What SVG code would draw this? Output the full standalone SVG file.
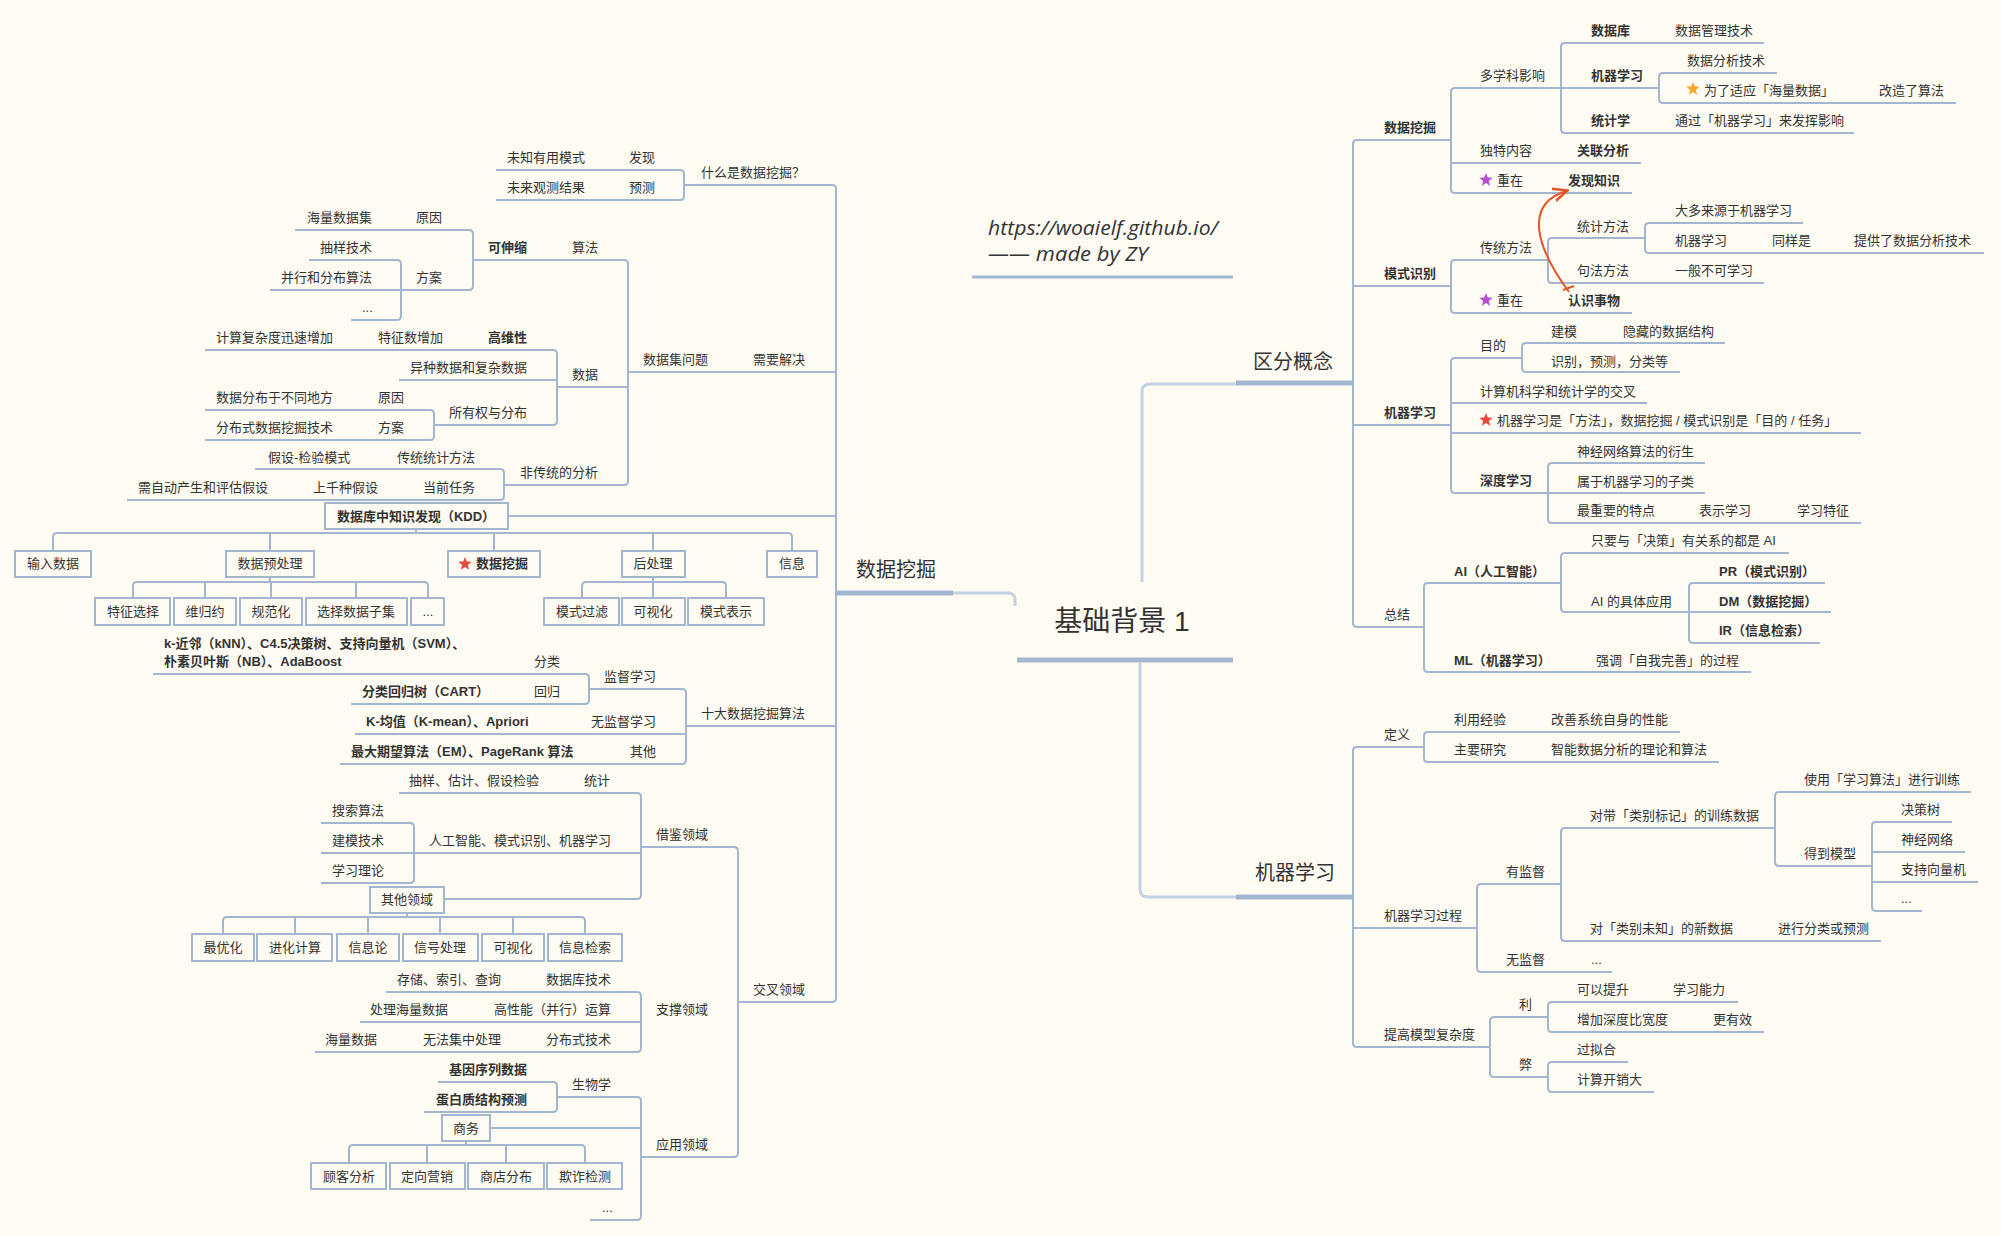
<svg xmlns="http://www.w3.org/2000/svg" width="2001" height="1236" viewBox="0 0 2001 1236">
<style>
.c{fill:none;stroke:#a3b6cf;stroke-width:2}
.m{fill:none;stroke:#a3b6cf;stroke-width:5}
.f{fill:none;stroke:#c3d1e1;stroke-width:3}
.t{font-family:"Liberation Sans","Noto Sans CJK SC",sans-serif;font-size:13px;fill:#333}
.b{font-weight:bold}
.x{text-anchor:middle}
.L{font-size:20px}
.bx{fill:#fefbf2;stroke:#a3b6cf;stroke-width:2}
.u{font-family:"Open Sans","Liberation Sans",sans-serif;font-style:italic;font-size:20px;fill:#333}
</style>
<defs>
<path id="star" d="M0,-7L1.76,-2.43L6.66,-2.16L2.85,0.93L4.11,5.66L0,3L-4.11,5.66L-2.85,0.93L-6.66,-2.16L-1.76,-2.43Z"/>
<marker id="ah" viewBox="0 0 10 10" refX="8" refY="5" markerWidth="8" markerHeight="8" orient="auto"><path d="M0,1L9,5L0,9" fill="none" stroke="#e2572b" stroke-width="1.6"/></marker>
</defs>
<rect width="2001" height="1236" fill="#fefbf2"/>

<g id="connectors">
<!-- root branches -->
<path class="m" d="M1017,660H1233"/>
<path class="f" d="M1015,606V600Q1015,593 1008,593H953"/>
<path class="m" d="M836,593H953"/>
<path class="f" d="M1142,582V392Q1142,384 1150,384H1236"/>
<path class="m" d="M1236,383H1353"/>
<path class="f" d="M1140,662V889Q1140,897 1148,897H1236"/>
<path class="m" d="M1236,897H1353"/>
<!-- left main vertical -->
<path class="c" d="M684,185H832Q836,185 836,189V998Q836,1002 832,1002H738"/>
<path class="c" d="M628,372H836"/>
<path class="c" d="M508,516H836"/>
<path class="c" d="M686,726H836"/>
<!-- 什么是数据挖掘 -->
<path class="c" d="M496,170H680Q684,170 684,174V196Q684,200 680,200H496"/>
<!-- 数据集问题 -->
<path class="c" d="M473,260H624Q628,260 628,264V481Q628,485 624,485H504"/>
<path class="c" d="M557,387H628"/>
<path class="c" d="M295,230H469Q473,230 473,234V286Q473,290 469,290H270"/>
<path class="c" d="M309,260H397Q401,260 401,264V316Q401,320 397,320H351"/>
<path class="c" d="M205,350H553Q557,350 557,354V421Q557,425 553,425H434"/>
<path class="c" d="M399,380H557"/>
<path class="c" d="M205,410H430Q434,410 434,414V436Q434,440 430,440H205"/>
<path class="c" d="M255,469H500Q504,469 504,473V496Q504,500 500,500H127"/>
<!-- KDD -->
<path class="c" d="M416,529V533M53,551V537Q53,533 57,533H788Q792,533 792,537V551M270,533V551M494,533V551M653,533V551"/>
<path class="c" d="M270,577V582M133,598V586Q133,582 137,582H424Q428,582 428,586V598M205,582V598M271,582V598M356,582V598"/>
<path class="c" d="M653,577V598M582,598V586Q582,582 586,582H722Q726,582 726,586V598"/>
<!-- 十大 -->
<path class="c" d="M589,689H682Q686,689 686,693V760Q686,764 682,764H340"/>
<path class="c" d="M355,734H686"/>
<path class="c" d="M153,674H585Q589,674 589,678V700Q589,704 585,704H351"/>
<!-- 交叉领域 -->
<path class="c" d="M641,847H734Q738,847 738,851V1153Q738,1157 734,1157H641"/>
<path class="c" d="M399,793H637Q641,793 641,797V895Q641,899 637,899H444"/>
<path class="c" d="M321,853H641"/>
<path class="c" d="M321,823H410Q414,823 414,827V879Q414,883 410,883H321"/>
<path class="c" d="M407,913V917M223,934V921Q223,917 227,917H581Q585,917 585,921V934M295,917V934M368,917V934M440,917V934M513,917V934"/>
<path class="c" d="M386,992H637Q641,992 641,996V1048Q641,1052 637,1052H315"/>
<path class="c" d="M360,1022H641"/>
<path class="c" d="M557,1097H637Q641,1097 641,1101V1216Q641,1220 637,1220H590"/>
<path class="c" d="M438,1082H553Q557,1082 557,1086V1108Q557,1112 553,1112H424"/>
<path class="c" d="M490,1128H641"/>
<path class="c" d="M466,1141V1145M349,1163V1149Q349,1145 353,1145H581Q585,1145 585,1149V1163M427,1145V1163M506,1145V1163"/>
<!-- 区分概念 -->
<path class="c" d="M1451,140H1357Q1353,140 1353,144V623Q1353,627 1357,627H1424"/>
<path class="c" d="M1353,286H1451M1353,425H1451"/>
<path class="c" d="M1561,88H1455Q1451,88 1451,92V189Q1451,193 1455,193H1632"/>
<path class="c" d="M1451,163H1641"/>
<path class="c" d="M1764,43H1565Q1561,43 1561,47V129Q1561,133 1565,133H1854"/>
<path class="c" d="M1561,88H1659"/>
<path class="c" d="M1777,73H1663Q1659,73 1659,77V99Q1659,103 1663,103H1956"/>
<path class="c" d="M1548,260H1455Q1451,260 1451,264V309Q1451,313 1455,313H1632"/>
<path class="c" d="M1645,238H1552Q1548,238 1548,242V279Q1548,283 1552,283H1764"/>
<path class="c" d="M1803,223H1649Q1645,223 1645,227V249Q1645,253 1649,253H1984"/>
<path class="c" d="M1522,358H1455Q1451,358 1451,362V489Q1451,493 1455,493H1548"/>
<path class="c" d="M1451,403H1647M1451,433H1861"/>
<path class="c" d="M1725,343H1526Q1522,343 1522,347V368Q1522,372 1526,372H1680"/>
<path class="c" d="M1705,463H1552Q1548,463 1548,467V519Q1548,523 1552,523H1861"/>
<path class="c" d="M1548,493H1705"/>
<path class="c" d="M1561,583H1428Q1424,583 1424,587V668Q1424,672 1428,672H1751"/>
<path class="c" d="M1789,553H1565Q1561,553 1561,557V608Q1561,612 1565,612H1689"/>
<path class="c" d="M1825,583H1693Q1689,583 1689,587V639Q1689,643 1693,643H1820"/>
<path class="c" d="M1689,612H1831"/>
<!-- 机器学习 -->
<path class="c" d="M1424,747H1357Q1353,747 1353,751V1043Q1353,1047 1357,1047H1490"/>
<path class="c" d="M1353,928H1477"/>
<path class="c" d="M1680,732H1428Q1424,732 1424,736V758Q1424,762 1428,762H1719"/>
<path class="c" d="M1561,884H1481Q1477,884 1477,888V968Q1477,972 1481,972H1612"/>
<path class="c" d="M1775,828H1565Q1561,828 1561,832V937Q1561,941 1565,941H1881"/>
<path class="c" d="M1971,792H1779Q1775,792 1775,796V862Q1775,866 1779,866H1872"/>
<path class="c" d="M1952,822H1876Q1872,822 1872,826V907Q1872,911 1876,911H1922"/>
<path class="c" d="M1872,852H1965M1872,882H1978"/>
<path class="c" d="M1548,1017H1494Q1490,1017 1490,1021V1073Q1490,1077 1494,1077H1548"/>
<path class="c" d="M1738,1002H1552Q1548,1002 1548,1006V1028Q1548,1032 1552,1032H1764"/>
<path class="c" d="M1628,1062H1552Q1548,1062 1548,1066V1088Q1548,1092 1552,1092H1654"/>
<!-- relation arrow -->
<path d="M1569,292C1538,250 1522,205 1566,191" fill="none" stroke="#e2572b" stroke-width="2" marker-end="url(#ah)"/>
<path d="M1563,290L1574,286" fill="none" stroke="#e2572b" stroke-width="2"/>
<!-- url underline -->
<path d="M972,277H1233" fill="none" stroke="#a3b6cf" stroke-width="3"/>
</g>

<g id="n-root"><text class="t x" x="1122" y="631" style="font-size:28px">基础背景 1</text></g>
<g id="n-url"><text class="u" x="988" y="235" textLength="230" lengthAdjust="spacingAndGlyphs">https://woaielf.github.io/</text><text class="u" x="988" y="261" textLength="160" lengthAdjust="spacingAndGlyphs">—— made by ZY</text></g>

<g id="n-dm"><text class="t L" x="856" y="577">数据挖掘</text></g>
<g id="n-qf"><text class="t L" x="1253" y="369">区分概念</text></g>
<g id="n-ml"><text class="t L" x="1255" y="880">机器学习</text></g>

<!-- left subtree -->
<g id="n-what"><text class="t" x="701" y="177">什么是数据挖掘？</text></g>
<g id="n-fx"><text class="t" x="629" y="162">发现</text><text class="t" x="507" y="162">未知有用模式</text></g>
<g id="n-yc"><text class="t" x="629" y="192">预测</text><text class="t" x="507" y="192">未来观测结果</text></g>

<g id="n-xyjj"><text class="t" x="753" y="364">需要解决</text></g>
<g id="n-sjjwt"><text class="t" x="643" y="364">数据集问题</text></g>
<g id="n-sf"><text class="t" x="572" y="252">算法</text></g>
<g id="n-ksf"><text class="t b" x="488" y="252">可伸缩</text></g>
<g id="n-yy1"><text class="t" x="416" y="222">原因</text><text class="t" x="307" y="222">海量数据集</text></g>
<g id="n-fa1"><text class="t" x="416" y="282">方案</text></g>
<g id="n-cyjs"><text class="t" x="320" y="252">抽样技术</text></g>
<g id="n-bx"><text class="t" x="281" y="282">并行和分布算法</text></g>
<g id="n-e1"><text class="t" x="362" y="312">...</text></g>
<g id="n-sj"><text class="t" x="572" y="379">数据</text></g>
<g id="n-gwx"><text class="t b" x="488" y="342">高维性</text><text class="t" x="378" y="342">特征数增加</text><text class="t" x="216" y="342">计算复杂度迅速增加</text></g>
<g id="n-yz"><text class="t" x="410" y="372">异种数据和复杂数据</text></g>
<g id="n-syq"><text class="t" x="449" y="417">所有权与分布</text></g>
<g id="n-yy2"><text class="t" x="378" y="402">原因</text><text class="t" x="216" y="402">数据分布于不同地方</text></g>
<g id="n-fa2"><text class="t" x="378" y="432">方案</text><text class="t" x="216" y="432">分布式数据挖掘技术</text></g>
<g id="n-fct"><text class="t" x="520" y="477">非传统的分析</text></g>
<g id="n-ctt"><text class="t" x="397" y="462">传统统计方法</text><text class="t" x="268" y="462">假设-检验模式</text></g>
<g id="n-dq"><text class="t" x="423" y="492">当前任务</text><text class="t" x="313" y="492">上千种假设</text><text class="t" x="138" y="492">需自动产生和评估假设</text></g>

<g id="n-kdd"><rect class="bx" x="325" y="503" width="183" height="26"/><text class="t b x" x="416" y="521">数据库中知识发现（KDD）</text></g>
<g id="n-srsj"><rect class="bx" x="15" y="551" width="76" height="26"/><text class="t x" x="53" y="568">输入数据</text></g>
<g id="n-yc2"><rect class="bx" x="226" y="551" width="88" height="26"/><text class="t x" x="270" y="568">数据预处理</text></g>
<g id="n-wj"><rect class="bx" x="448" y="551" width="92" height="26"/><use href="#star" x="465" y="564" fill="#e8473d"/><text class="t b" x="476" y="568">数据挖掘</text></g>
<g id="n-hcl"><rect class="bx" x="622" y="551" width="63" height="26"/><text class="t x" x="653" y="568">后处理</text></g>
<g id="n-xx"><rect class="bx" x="767" y="551" width="50" height="26"/><text class="t x" x="792" y="568">信息</text></g>
<g id="n-tzxz"><rect class="bx" x="95" y="598" width="75" height="27"/><text class="t x" x="133" y="616">特征选择</text></g>
<g id="n-wgy"><rect class="bx" x="174" y="598" width="62" height="27"/><text class="t x" x="205" y="616">维归约</text></g>
<g id="n-gfh"><rect class="bx" x="240" y="598" width="62" height="27"/><text class="t x" x="271" y="616">规范化</text></g>
<g id="n-xzsj"><rect class="bx" x="306" y="598" width="101" height="27"/><text class="t x" x="356" y="616">选择数据子集</text></g>
<g id="n-e2"><rect class="bx" x="411" y="598" width="33" height="27"/><text class="t x" x="428" y="616">...</text></g>
<g id="n-msgl"><rect class="bx" x="544" y="598" width="75" height="27"/><text class="t x" x="582" y="616">模式过滤</text></g>
<g id="n-ksh1"><rect class="bx" x="622" y="598" width="63" height="27"/><text class="t x" x="653" y="616">可视化</text></g>
<g id="n-msbs"><rect class="bx" x="688" y="598" width="76" height="27"/><text class="t x" x="726" y="616">模式表示</text></g>

<g id="n-sd"><text class="t" x="701" y="718">十大数据挖掘算法</text></g>
<g id="n-jd"><text class="t" x="604" y="681">监督学习</text></g>
<g id="n-fl"><text class="t" x="534" y="666">分类</text><text class="t b" x="164" y="648">k-近邻（kNN）、C4.5决策树、支持向量机（SVM）、</text><text class="t b" x="164" y="666">朴素贝叶斯（NB）、AdaBoost</text></g>
<g id="n-hg"><text class="t" x="534" y="696">回归</text><text class="t b" x="362" y="696">分类回归树（CART）</text></g>
<g id="n-wjd"><text class="t" x="591" y="726">无监督学习</text><text class="t b" x="366" y="726">K-均值（K-mean）、Apriori</text></g>
<g id="n-qt"><text class="t" x="630" y="756">其他</text><text class="t b" x="351" y="756">最大期望算法（EM）、PageRank 算法</text></g>

<g id="n-jc"><text class="t" x="753" y="994">交叉领域</text></g>
<g id="n-jj"><text class="t" x="656" y="839">借鉴领域</text></g>
<g id="n-tj"><text class="t" x="584" y="785">统计</text><text class="t" x="409" y="785">抽样、估计、假设检验</text></g>
<g id="n-rg"><text class="t" x="429" y="845">人工智能、模式识别、机器学习</text></g>
<g id="n-ss"><text class="t" x="332" y="815">搜索算法</text></g>
<g id="n-jm"><text class="t" x="332" y="845">建模技术</text></g>
<g id="n-xxll"><text class="t" x="332" y="875">学习理论</text></g>
<g id="n-qtly"><rect class="bx" x="370" y="887" width="74" height="26"/><text class="t x" x="407" y="904">其他领域</text></g>
<g id="n-zyh"><rect class="bx" x="192" y="934" width="62" height="27"/><text class="t x" x="223" y="952">最优化</text></g>
<g id="n-jhjs"><rect class="bx" x="257" y="934" width="75" height="27"/><text class="t x" x="295" y="952">进化计算</text></g>
<g id="n-xxl"><rect class="bx" x="337" y="934" width="62" height="27"/><text class="t x" x="368" y="952">信息论</text></g>
<g id="n-xhcl"><rect class="bx" x="403" y="934" width="75" height="27"/><text class="t x" x="440" y="952">信号处理</text></g>
<g id="n-ksh2"><rect class="bx" x="482" y="934" width="62" height="27"/><text class="t x" x="513" y="952">可视化</text></g>
<g id="n-xxjs"><rect class="bx" x="548" y="934" width="74" height="27"/><text class="t x" x="585" y="952">信息检索</text></g>
<g id="n-zc"><text class="t" x="656" y="1014">支撑领域</text></g>
<g id="n-sjkjs"><text class="t" x="546" y="984">数据库技术</text><text class="t" x="397" y="984">存储、索引、查询</text></g>
<g id="n-gxn"><text class="t" x="494" y="1014">高性能（并行）运算</text><text class="t" x="370" y="1014">处理海量数据</text></g>
<g id="n-fbs"><text class="t" x="546" y="1044">分布式技术</text><text class="t" x="423" y="1044">无法集中处理</text><text class="t" x="325" y="1044">海量数据</text></g>
<g id="n-yyly"><text class="t" x="656" y="1149">应用领域</text></g>
<g id="n-swx"><text class="t" x="572" y="1089">生物学</text></g>
<g id="n-jy"><text class="t b" x="449" y="1074">基因序列数据</text></g>
<g id="n-dbz"><text class="t b" x="436" y="1104">蛋白质结构预测</text></g>
<g id="n-sw"><rect class="bx" x="442" y="1115" width="48" height="26"/><text class="t x" x="466" y="1133">商务</text></g>
<g id="n-gkfx"><rect class="bx" x="311" y="1163" width="75" height="26"/><text class="t x" x="349" y="1181">顾客分析</text></g>
<g id="n-dxyx"><rect class="bx" x="390" y="1163" width="75" height="26"/><text class="t x" x="427" y="1181">定向营销</text></g>
<g id="n-sdfb"><rect class="bx" x="468" y="1163" width="76" height="26"/><text class="t x" x="506" y="1181">商店分布</text></g>
<g id="n-qzjc"><rect class="bx" x="547" y="1163" width="75" height="26"/><text class="t x" x="585" y="1181">欺诈检测</text></g>
<g id="n-e3"><text class="t" x="602" y="1212">...</text></g>

<!-- 区分概念 subtree -->
<g id="n-r-dm"><text class="t b" x="1384" y="132">数据挖掘</text></g>
<g id="n-dxk"><text class="t" x="1480" y="80">多学科影响</text></g>
<g id="n-sjk"><text class="t b" x="1591" y="35">数据库</text><text class="t" x="1675" y="35">数据管理技术</text></g>
<g id="n-jqxx1"><text class="t b" x="1591" y="80">机器学习</text></g>
<g id="n-sjfx"><text class="t" x="1687" y="65">数据分析技术</text></g>
<g id="n-hl"><use href="#star" x="1693" y="89" fill="#f5a623"/><text class="t" x="1704" y="95">为了适应「海量数据」</text><text class="t" x="1879" y="95">改造了算法</text></g>
<g id="n-tjx"><text class="t b" x="1591" y="125">统计学</text><text class="t" x="1675" y="125">通过「机器学习」来发挥影响</text></g>
<g id="n-dtnr"><text class="t" x="1480" y="155">独特内容</text><text class="t b" x="1577" y="155">关联分析</text></g>
<g id="n-zz1"><use href="#star" x="1486" y="180" fill="#b34fd0"/><text class="t" x="1497" y="185">重在</text><text class="t b" x="1568" y="185">发现知识</text></g>
<g id="n-mssb"><text class="t b" x="1384" y="278">模式识别</text></g>
<g id="n-ctff"><text class="t" x="1480" y="252">传统方法</text></g>
<g id="n-tjff"><text class="t" x="1577" y="231">统计方法</text></g>
<g id="n-dd"><text class="t" x="1675" y="215">大多来源于机器学习</text></g>
<g id="n-jqxx2"><text class="t" x="1675" y="245">机器学习</text><text class="t" x="1772" y="245">同样是</text><text class="t" x="1854" y="245">提供了数据分析技术</text></g>
<g id="n-jfff"><text class="t" x="1577" y="275">句法方法</text><text class="t" x="1675" y="275">一般不可学习</text></g>
<g id="n-zz2"><use href="#star" x="1486" y="300" fill="#b34fd0"/><text class="t" x="1497" y="305">重在</text><text class="t b" x="1568" y="305">认识事物</text></g>
<g id="n-r-ml"><text class="t b" x="1384" y="417">机器学习</text></g>
<g id="n-md"><text class="t" x="1480" y="350">目的</text></g>
<g id="n-jm2"><text class="t" x="1551" y="336">建模</text><text class="t" x="1623" y="336">隐藏的数据结构</text></g>
<g id="n-sb"><text class="t" x="1551" y="366">识别，预测，分类等</text></g>
<g id="n-jsj"><text class="t" x="1480" y="396">计算机科学和统计学的交叉</text></g>
<g id="n-ff"><use href="#star" x="1486" y="420" fill="#e8473d"/><text class="t" x="1497" y="425">机器学习是「方法」，数据挖掘 / 模式识别是「目的 / 任务」</text></g>
<g id="n-sdxx"><text class="t b" x="1480" y="485">深度学习</text></g>
<g id="n-sjwl"><text class="t" x="1577" y="456">神经网络算法的衍生</text></g>
<g id="n-sy"><text class="t" x="1577" y="486">属于机器学习的子类</text></g>
<g id="n-zzy"><text class="t" x="1577" y="515">最重要的特点</text><text class="t" x="1699" y="515">表示学习</text><text class="t" x="1797" y="515">学习特征</text></g>
<g id="n-zj"><text class="t" x="1384" y="619">总结</text></g>
<g id="n-ai"><text class="t b" x="1454" y="576">AI（人工智能）</text></g>
<g id="n-jc2"><text class="t" x="1591" y="545">只要与「决策」有关系的都是 AI</text></g>
<g id="n-aiyy"><text class="t" x="1591" y="606">AI 的具体应用</text></g>
<g id="n-pr"><text class="t b" x="1719" y="576">PR（模式识别）</text></g>
<g id="n-dm2"><text class="t b" x="1719" y="606">DM（数据挖掘）</text></g>
<g id="n-ir"><text class="t b" x="1719" y="635">IR（信息检索）</text></g>
<g id="n-mlz"><text class="t b" x="1454" y="665">ML（机器学习）</text><text class="t" x="1596" y="665">强调「自我完善」的过程</text></g>

<!-- 机器学习 subtree -->
<g id="n-dy"><text class="t" x="1384" y="739">定义</text></g>
<g id="n-lyjy"><text class="t" x="1454" y="724">利用经验</text><text class="t" x="1551" y="724">改善系统自身的性能</text></g>
<g id="n-zyyj"><text class="t" x="1454" y="754">主要研究</text><text class="t" x="1551" y="754">智能数据分析的理论和算法</text></g>
<g id="n-gc"><text class="t" x="1384" y="920">机器学习过程</text></g>
<g id="n-yjd"><text class="t" x="1506" y="876">有监督</text></g>
<g id="n-dlb"><text class="t" x="1590" y="820">对带「类别标记」的训练数据</text></g>
<g id="n-syxx"><text class="t" x="1804" y="784">使用「学习算法」进行训练</text></g>
<g id="n-ddmx"><text class="t" x="1804" y="858">得到模型</text></g>
<g id="n-jcs"><text class="t" x="1901" y="814">决策树</text></g>
<g id="n-sjwl2"><text class="t" x="1901" y="844">神经网络</text></g>
<g id="n-zcxl"><text class="t" x="1901" y="874">支持向量机</text></g>
<g id="n-e4"><text class="t" x="1901" y="903">...</text></g>
<g id="n-dwz"><text class="t" x="1590" y="933">对「类别未知」的新数据</text><text class="t" x="1778" y="933">进行分类或预测</text></g>
<g id="n-wjd2"><text class="t" x="1506" y="964">无监督</text><text class="t" x="1591" y="964">...</text></g>
<g id="n-tg"><text class="t" x="1384" y="1039">提高模型复杂度</text></g>
<g id="n-li"><text class="t" x="1519" y="1009">利</text></g>
<g id="n-kyts"><text class="t" x="1577" y="994">可以提升</text><text class="t" x="1673" y="994">学习能力</text></g>
<g id="n-zjsd"><text class="t" x="1577" y="1024">增加深度比宽度</text><text class="t" x="1713" y="1024">更有效</text></g>
<g id="n-bi"><text class="t" x="1519" y="1069">弊</text></g>
<g id="n-gnh"><text class="t" x="1577" y="1054">过拟合</text></g>
<g id="n-jskx"><text class="t" x="1577" y="1084">计算开销大</text></g>
</svg>
